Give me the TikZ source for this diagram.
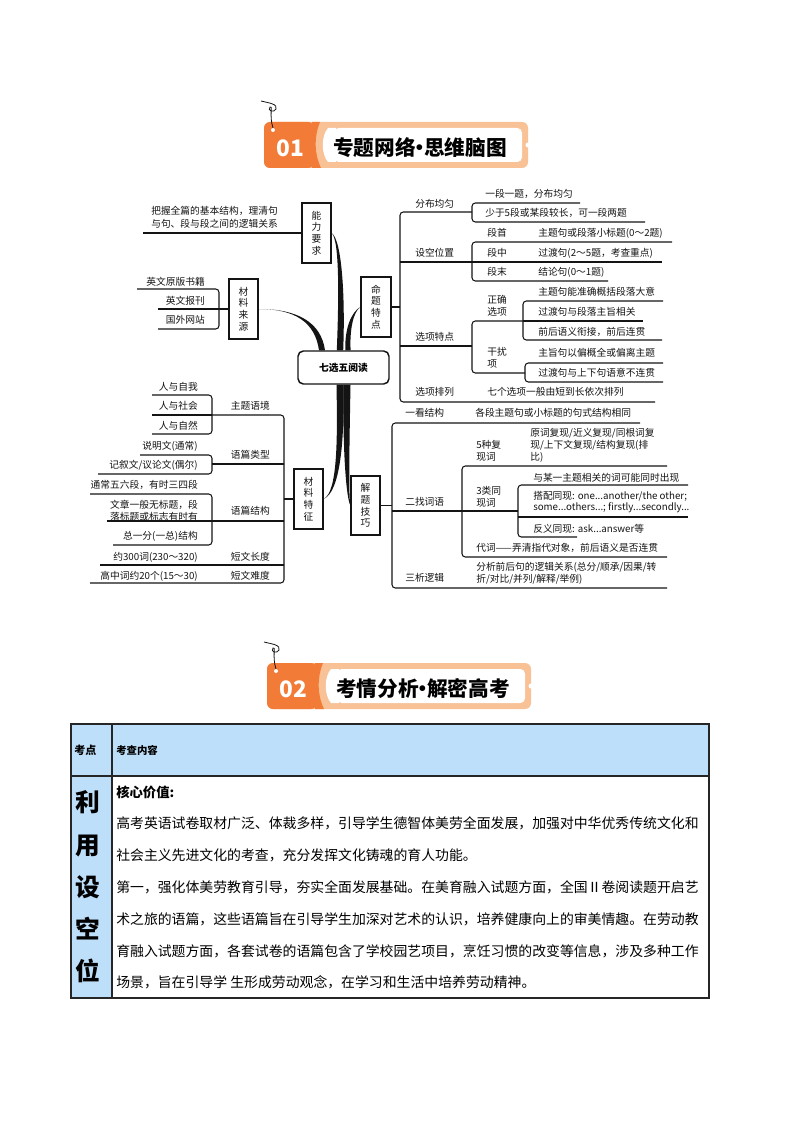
\documentclass[tikz,border=0pt]{standalone}
\usepackage{fontspec}
\setmainfont{Noto Sans CJK SC}
\usetikzlibrary{calc}
\pgfdeclarelayer{paper}
\pgfdeclarelayer{bg}
\pgfsetlayers{paper,bg,main}
\definecolor{orgdark}{HTML}{F37B38}
\definecolor{orglight}{HTML}{F8C196}
\definecolor{tblue}{HTML}{BEDFFA}
\definecolor{ink}{HTML}{141414}
\newcommand\mmbranch[5]{%
  \fill[ink] #1 .. controls ($#2+(-0.4*#5,0)$) and ($#3+(-#5,0)$) .. ($#4+(-#5,0)$)
     -- ($#4+(#5,0)$) .. controls ($#3+(#5,0)$) and ($#2+(0.4*#5,0)$) .. #1 -- cycle;}
\newcommand\tdot{\hspace{-0.3em}•\hspace{-0.3em}}
\newcommand\mmbanner[4]{%
  \begin{scope}[shift={#1}]
    \fill[orglight, rounded corners=4.5pt] (0,0) rectangle (264,46);
    \fill[orgdark, rounded corners=4.5pt] (50,0) -- (0,0) -- (0,46) -- (50,46) -- cycle;
    \fill[orgdark] (48,0) -- (56,0) .. controls (50,15) and (50,31) .. (57,46) -- (48,46) -- cycle;
    \fill[white, rounded corners=3.5pt] (70,6) -- (258,6) -- (258,40) -- (70,40) -- cycle;
    \fill[white] (72,6) -- (64,6) .. controls (57,14) and (57,32) .. (64,40) -- (72,40) -- cycle;
    \fill[white] (264,23) circle (2.5);
    \fill[white] (9,8) circle (2);
    \draw[ink, line width=0.6pt] (-3,-21) .. controls (5,-19) and (14,-18) .. (12,-13)
       .. controls (10,-9) and (3,-11) .. (6,-15) .. controls (9,-18) and (5,-6) .. (9,6);
    \node[font=\fontsize{17}{17}\selectfont\bfseries, text=white, inner sep=0pt] (#2num) at (26,26) {#3};
    \node[font=\fontsize{15.5}{15.5}\selectfont\bfseries, text=black, inner sep=0pt] (#2title) at (156,26) {#4};
  \end{scope}}
\begin{document}
\begin{tikzpicture}[x=0.75pt,y=-0.75pt,
  mm/.style={font=\fontsize{7.3}{8.8}\selectfont, inner sep=0pt, text=ink},
  lbl/.style={mm, anchor=west, align=left},
  rlbl/.style={mm, anchor=east, align=right},
  vbox/.style={draw=ink, line width=0.9pt, fill=white, inner sep=0pt, align=center,
     font=\fontsize{7.3}{8.8}\selectfont, text=ink, minimum width=21.75pt, minimum height=45pt},
  cnode/.style={draw=ink, line width=1.1pt, rounded corners=4pt, fill=white, inner sep=0pt,
     minimum width=68.25pt, minimum height=24.75pt, font=\fontsize{7.3}{8.8}\selectfont\bfseries},
  ln/.style={draw=ink, line width=0.8pt},
  rc/.style={ln, rounded corners=2.5pt},
  tline/.style={draw=black!85, line width=0.8pt},
  body/.style={anchor=west, inner sep=0pt, font=\fontsize{10.4}{12}\selectfont},
]
\begin{pgfonlayer}{paper}
\fill[white] (0,0) rectangle (794,1123);
\end{pgfonlayer}
\useasboundingbox (0,0) rectangle (794,1123);

% ---------- banners
\mmbanner{(264,122)}{ba}{01}{专题网络\tdot 思维脑图}
\mmbanner{(267,663)}{bb}{02}{考情分析\tdot 解密高考}

% ---------- mind map main nodes
\node[cnode] (c) at (343.5,367.5) {七选五阅读};
\node[vbox] (nl) at (316.5,233) {能\\力\\要\\求};
\node[vbox] (ml) at (243.5,309) {材\\料\\来\\源};
\node[vbox, minimum width=22.5pt] (mt) at (376,307) {命\\题\\特\\点};
\node[vbox] (mz) at (308.5,499) {材\\料\\特\\征};
\node[vbox, minimum height=44.25pt] (jt) at (365.5,505.5) {解\\题\\技\\巧};

\begin{pgfonlayer}{bg}
\coordinate (e1) at ($(c.north)+(-3.5,0)$);
\coordinate (e2) at ($(c.north)+(-21.5,0)$);
\coordinate (e3) at ($(c.north)+(4.5,0)$);
\coordinate (e4) at ($(c.south)+(-3.5,0)$);
\coordinate (e5) at ($(c.south)+(3.5,0)$);
\mmbranch{(nl.east)}{(341,240)}{(342,300)}{(e1)}{3.2}
\mmbranch{(ml.east)}{(296,309)}{(318,322)}{(e2)}{3}
\mmbranch{(mt.west)}{(352,312)}{(347,330)}{(e3)}{2.6}
\mmbranch{(mz.east)}{(339,492)}{(341,440)}{(e4)}{3.5}
\mmbranch{(jt.west)}{(347,497)}{(346,440)}{(e5)}{3.5}
\end{pgfonlayer}

% ---------- top-left
\draw[ln] (nl.west) -- (143,233);
\node[lbl, font=\fontsize{7.3}{9.75}\selectfont] (a1) at (151,217.5) {把握全篇的基本结构，理清句\\与句、段与段之间的逻辑关系};
\draw[ln] (ml.west) -- (158,309);
\draw[rc] (137,289) -- (219,289) -- (219,329) -- (158,329);
\node[rlbl] (s1) at (205,282) {英文原版书籍};
\node[rlbl] (s2) at (205,301) {英文报刊};
\node[rlbl] (s3) at (205,320) {国外网站};

% ---------- top-right
\draw[ln] (mt.east) -- (400,307);
\draw[rc] (472,212) -- (400,212) -- (400,402) -- (655,402);
\draw[ln] (400,262) -- (662,262);
\draw[ln] (400,346) -- (472,346);
\draw[rc] (580,203) -- (472,203) -- (472,222) -- (645,222);
\draw[rc] (672,242) -- (472,242) -- (472,281) -- (608,281);
\draw[rc] (523,321) -- (472,321) -- (472,373) -- (525,373);
\draw[rc] (663,301) -- (523,301) -- (523,340) -- (662,340);
\draw[ln] (523,321) -- (643,321);
\draw[rc] (663,363) -- (525,363) -- (525,382) -- (663,382);

\node[lbl] (p1) at (415,204) {分布均匀};
\node[lbl] (p2) at (415,253) {设空位置};
\node[lbl] (p3) at (415,337) {选项特点};
\node[lbl] (p4) at (415,392) {选项排列};
\node[lbl] (p11) at (485,194) {一段一题，分布均匀};
\node[lbl] (p12) at (485,213) {少于5段或某段较长，可一段两题};
\node[lbl] (p21) at (487,233) {段首};
\node[lbl] (p22) at (487,253) {段中};
\node[lbl] (p23) at (487,272) {段末};
\node[lbl] (p21t) at (538,233) {主题句或段落小标题(0～2题)};
\node[lbl] (p22t) at (538,253) {过渡句(2～5题，考查重点)};
\node[lbl] (p23t) at (538,272) {结论句(0～1题)};
\node[lbl] (p31) at (487,306) {正确\\选项};
\node[lbl] (p32) at (487,357.5) {干扰\\项};
\node[lbl] (p311) at (538,292) {主题句能准确概括段落大意};
\node[lbl] (p312) at (538,312) {过渡句与段落主旨相关};
\node[lbl] (p313) at (538,332) {前后语义衔接，前后连贯};
\node[lbl] (p321) at (538,353) {主旨句以偏概全或偏离主题};
\node[lbl] (p322) at (538,373) {过渡句与上下句语意不连贯};
\node[lbl] (p41) at (487,392) {七个选项一般由短到长依次排列};

% ---------- bottom-right
\draw[ln] (jt.east) -- (392,505.5);
\draw[rc] (640,423) -- (392,423) -- (392,588) -- (667,588);
\draw[ln] (392,511) -- (518,511);
\draw[rc] (667,466) -- (462,466) -- (462,557) -- (667,557);
\draw[rc] (688,485) -- (518,485) -- (518,537) -- (577,537);
\draw[ln] (518,517) -- (688,517);

\node[lbl] (j1) at (405,413) {一看结构};
\node[lbl] (j1t) at (475,413) {各段主题句或小标题的句式结构相同};
\node[lbl] (j2) at (405,502) {二找词语};
\node[lbl] (j3) at (405,578) {三析逻辑};
\node[lbl] (j21) at (476,451) {5种复\\现词};
\node[lbl] (j21t) at (530,445.5) {原词复现/近义复现/同根词复\\现/上下文复现/结构复现(排\\比)};
\node[lbl] (j22) at (476,497) {3类同\\现词};
\node[lbl] (j221) at (533,478) {与某一主题相关的词可能同时出现};
\node[lbl] (j222) at (533,502) {搭配同现: one...another/the other;\\some...others...; firstly...secondly...};
\node[lbl] (j223) at (533,529) {反义同现: ask...answer等};
\node[lbl] (j23) at (476,548) {代词——弄清指代对象，前后语义是否连贯};
\node[lbl] (j3t) at (476,573.5) {分析前后句的逻辑关系(总分/顺承/因果/转\\折/对比/并列/解释/举例)};

% ---------- bottom-left
\draw[ln] (mz.west) -- (284,499);
\draw[rc] (212,415) -- (284,415) -- (284,583) -- (90,583);
\draw[ln] (284,464) -- (212,464);
\draw[ln] (284,521) -- (107,521);
\draw[ln] (284,565) -- (100,565);
\draw[rc] (152,395) -- (212,395) -- (212,434) -- (152,434);
\draw[ln] (152,415) -- (212,415);
\draw[rc] (140,455) -- (212,455) -- (212,474) -- (98,474);
\draw[rc] (90,494) -- (212,494) -- (212,545) -- (113,545);

\node[rlbl] (m1) at (270,406) {主题语境};
\node[rlbl] (m2) at (270,455) {语篇类型};
\node[rlbl] (m3) at (270,511) {语篇结构};
\node[rlbl] (m4) at (270,557) {短文长度};
\node[rlbl] (m5) at (270,576) {短文难度};
\node[rlbl] (m11) at (198,387) {人与自我};
\node[rlbl] (m12) at (198,406) {人与社会};
\node[rlbl] (m13) at (198,426) {人与自然};
\node[rlbl] (m21) at (198,446) {说明文(通常)};
\node[rlbl] (m22) at (198,465) {记叙文/议论文(偶尔)};
\node[rlbl] (m31) at (198,485) {通常五六段，有时三四段};
\node[rlbl] (m32) at (198,511) {文章一般无标题，段\\落标题或标志有时有};
\node[rlbl] (m33) at (198,536) {总一分(一总)结构};
\node[rlbl] (m41) at (198,557) {约300词(230～320)};
\node[rlbl] (m51) at (198,576) {高中词约20个(15～30)};

% ---------- table
\fill[tblue] (71,724) rectangle (709,776);
\fill[tblue] (71,776) rectangle (112,998);
\draw[tline] (71,724) rectangle (709,998);
\draw[tline] (112,724) -- (112,998);
\draw[tline] (71,776) -- (709,776);
\node[anchor=west, inner sep=0pt, font=\fontsize{8.3}{10}\selectfont\bfseries] (h1) at (74,750) {考点};
\node[anchor=west, inner sep=0pt, font=\fontsize{7.8}{10}\selectfont\bfseries] (h2) at (116,750) {考查内容};
\node[inner sep=0pt, align=center, font=\fontsize{18.5}{31.7}\selectfont\bfseries] (big) at (87.5,887) {利\\用\\设\\空\\位};
\node[body, font=\fontsize{10}{12}\selectfont\bfseries] (b1) at (116,792) {核心价值:};
\node[body] (b2) at (116,823) {高考英语试卷取材广泛、体裁多样，引导学生德智体美劳全面发展，加强对中华优秀传统文化和};
\node[body] (b3) at (116,855) {社会主义先进文化的考查，充分发挥文化铸魂的育人功能。};
\node[body] (b4) at (116,887) {第一，强化体美劳教育引导，夯实全面发展基础。在美育融入试题方面，全国Ⅱ卷阅读题开启艺};
\node[body] (b5) at (116,919) {术之旅的语篇，这些语篇旨在引导学生加深对艺术的认识，培养健康向上的审美情趣。在劳动教};
\node[body] (b6) at (116,951) {育融入试题方面，各套试卷的语篇包含了学校园艺项目，烹饪习惯的改变等信息，涉及多种工作};
\node[body] (b7) at (116,982) {场景，旨在引导学 生形成劳动观念，在学习和生活中培养劳动精神。};
\end{tikzpicture}
\end{document}
